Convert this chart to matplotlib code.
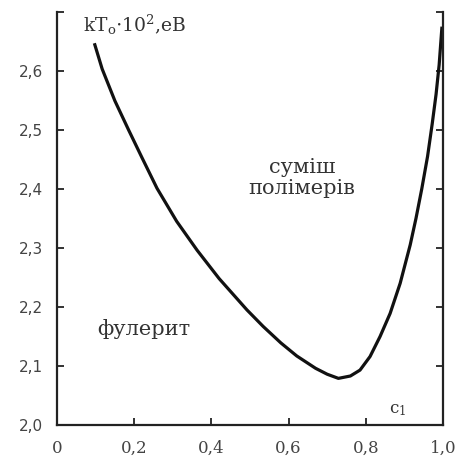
import numpy as np
import matplotlib
matplotlib.use('Agg')
import matplotlib.pyplot as plt

plt.rcParams['font.family'] = ['DejaVu Serif']
plt.rcParams['mathtext.fontset'] = 'dejavuserif'

# curve: c1 vs kT0*10^2 (eV)
c1 = [0.098, 0.117, 0.150, 0.186, 0.220, 0.259, 0.310, 0.363, 0.420, 0.492,
      0.534, 0.580, 0.621, 0.670, 0.700, 0.729, 0.760, 0.785, 0.811, 0.837,
      0.863, 0.889, 0.915, 0.930, 0.945, 0.960, 0.972, 0.982, 0.990, 0.997]
kT = [2.644, 2.603, 2.549, 2.499, 2.453, 2.401, 2.345, 2.296, 2.248, 2.195,
      2.167, 2.139, 2.117, 2.096, 2.086, 2.079, 2.083, 2.093, 2.116, 2.150,
      2.189, 2.240, 2.305, 2.350, 2.400, 2.455, 2.510, 2.560, 2.610, 2.672]

xticks = [0, 0.2, 0.4, 0.6, 0.8, 1.0]
xlabels = ['0', '0,2', '0,4', '0,6', '0,8', '1,0']
yticks = [2.0, 2.1, 2.2, 2.3, 2.4, 2.5, 2.6, 2.7]
ylabels = ['2,0', '2,1', '2,2', '2,3', '2,4', '2,5', '2,6', '']

fig = plt.figure(figsize=(4.68, 4.57), dpi=100)
ax = fig.add_axes([0.1218, 0.070, 0.8248, 0.9044])

ax.plot(c1, kT, color='#111111', linewidth=2.3, solid_joinstyle='round')

ax.set_xlim(0, 1.0)
ax.set_ylim(2.0, 2.7)
ax.set_xticks(xticks)
ax.set_xticklabels(xlabels, fontsize=12)
ax.set_yticks(yticks)
ax.set_yticklabels(ylabels, fontsize=11, family='DejaVu Sans')

ax.spines['top'].set_visible(False)
for s in ['left', 'right', 'bottom']:
    ax.spines[s].set_linewidth(1.6)
    ax.spines[s].set_color('#222222')

ax.tick_params(direction='in', length=5, width=1.3, colors='#222222')
ax.tick_params(axis='y', right=True, pad=10)
ax.tick_params(axis='x', pad=11)
for lab in ax.get_xticklabels() + ax.get_yticklabels():
    lab.set_color('#444444')

# texts
ax.text(0.067, 2.666, r'kT$_{\mathrm{o}}$$\cdot$10$^{2}$,eB', fontsize=13.5,
        color='#333333', ha='left', va='baseline')
ax.text(0.883, 2.027, r'c$_{1}$', fontsize=12, color='#333333',
        ha='center', va='center')
ax.text(0.635, 2.418, 'суміш\nполімерів', fontsize=15, color='#333333',
        ha='center', va='center', linespacing=1.1)
ax.text(0.224, 2.162, 'фулерит', fontsize=15, color='#333333',
        ha='center', va='center')

fig.savefig('out.png', dpi=100)
